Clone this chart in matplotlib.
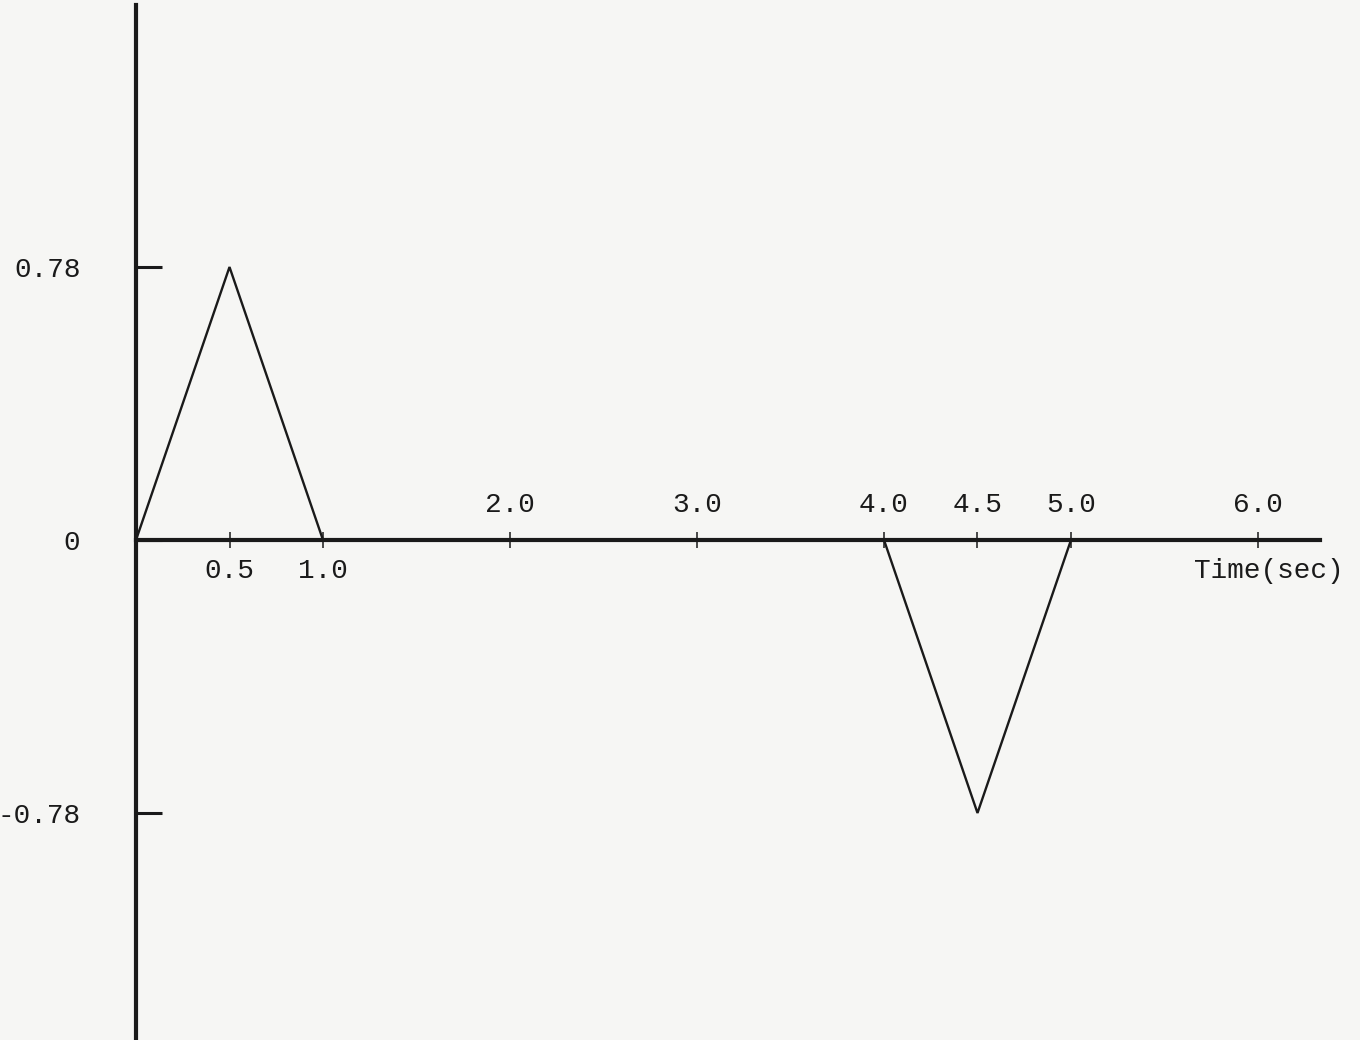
import matplotlib.pyplot as plt

# pulse train: triangle up on 0..1 s, triangle down on 4..5 s
t = [0.0, 0.5, 1.0, 4.0, 4.5, 5.0]
amp = [0.0, 0.78, 0.0, 0.0, -0.78, 0.0]

y_ticks = [-0.78, 0.0, 0.78]
y_labels = ["-0.78", "0", "0.78"]

x_ticks_below = [0.5, 1.0]
x_ticks_above = [2.0, 3.0, 4.0, 4.5, 5.0, 6.0]

plt.rcParams['font.family'] = ['Liberation Mono', 'DejaVu Sans Mono']
ink = "#1a1a1a"
fs = 20

fig = plt.figure(figsize=(13.6, 10.4), dpi=100)
fig.patch.set_facecolor("#f6f6f4")
ax = fig.add_axes([0, 0, 1, 1])
ax.set_facecolor("#f6f6f4")

# 187 px per second, 350 px per unit, origin at (136, 540) px
ax.set_xlim(-136 / 187, (1360 - 136) / 187)
ax.set_ylim(-(1040 - 540) / 350, 540 / 350)

ax.plot(t, amp, color=ink, lw=1.7, solid_joinstyle="miter")

for side in ["top", "right"]:
    ax.spines[side].set_visible(False)
ax.spines["left"].set_position(("data", 0))
ax.spines["bottom"].set_position(("data", 0))
ax.spines["left"].set_bounds(-1.45, 1.53)
ax.spines["bottom"].set_bounds(0, 6.33)
for side in ["left", "bottom"]:
    ax.spines[side].set_linewidth(3)
    ax.spines[side].set_color(ink)

ax.set_yticks(y_ticks, labels=y_labels)
ax.tick_params(axis="y", direction="in", length=19, width=2.2, color=ink,
               pad=40, labelsize=fs, labelcolor=ink)

ax.set_xticks(x_ticks_below + x_ticks_above)
ax.tick_params(axis="x", direction="inout", length=11, width=1.1, color=ink,
               labelbottom=False)

for x in x_ticks_below:
    ax.annotate(f"{x:.1f}", (x, 0), xytext=(0, -22), textcoords="offset points",
                ha="center", va="center", fontsize=fs, color=ink)
for x in x_ticks_above:
    ax.annotate(f"{x:.1f}", (x, 0), xytext=(0, 25), textcoords="offset points",
                ha="center", va="center", fontsize=fs, color=ink)

ax.annotate("Time(sec)", (6.06, 0), xytext=(0, -22), textcoords="offset points",
            ha="center", va="center", fontsize=fs, color=ink)

fig.savefig("out.png", dpi=100, facecolor=fig.get_facecolor())
